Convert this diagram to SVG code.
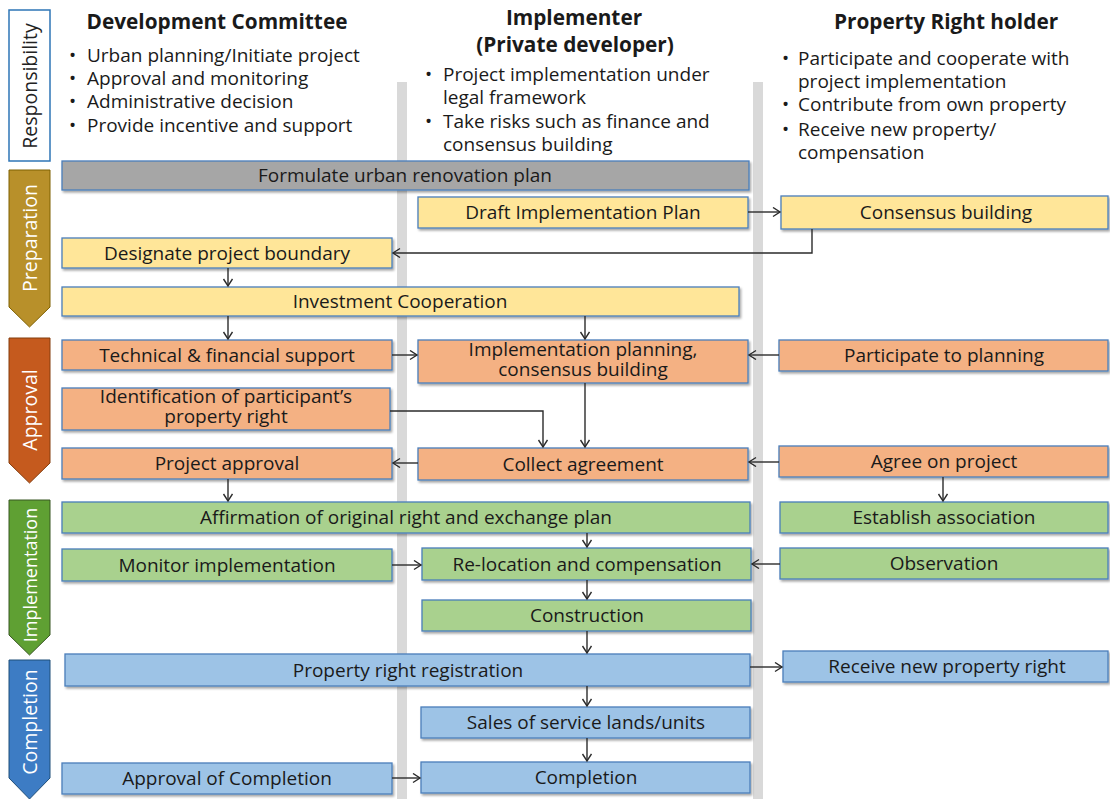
<svg xmlns="http://www.w3.org/2000/svg" width="1110" height="799" viewBox="0 0 1110 799">
<defs>
<style>
text{font-family:"Open Sans","Liberation Sans",sans-serif;fill:#1a1a1a}
.h{font-size:20.8px;font-weight:bold;text-anchor:middle}
.b{font-size:19px}
.t{font-size:19px;text-anchor:middle}
.ph{font-size:19.5px;fill:#fff;text-anchor:middle}
.box{stroke:#4a7ebb;stroke-width:1.3;filter:url(#sh)}
.gray{fill:#a6a6a6}.yel{fill:#ffe699}.org{fill:#f4b183}.grn{fill:#a9d18e}.blu{fill:#9dc3e6}
.lane{fill:#d9d9d9}
.c{fill:none;stroke:#2b2b2b;stroke-width:1.4;marker-end:url(#ah)}
</style>
<filter id="sh" x="-5%" y="-20%" width="110%" height="150%">
<feDropShadow dx="1.5" dy="2" stdDeviation="1" flood-color="#000" flood-opacity="0.35"/>
</filter>
<marker id="ah" markerUnits="userSpaceOnUse" markerWidth="12" markerHeight="12" refX="8" refY="5" orient="auto">
<path d="M1,0.5 L8,5 L1,9.5" fill="none" stroke="#2b2b2b" stroke-width="1.4"/>
</marker>
</defs>
<rect width="1110" height="799" fill="#fff"/>

<g id="lanes">
<rect class="lane" x="397" y="82" width="10" height="717"/>
<rect class="lane" x="753" y="82" width="10" height="717"/>
</g>

<g id="phase-responsibility">
<rect x="9" y="10" width="41" height="151" fill="#fff" stroke="#2e75b6" stroke-width="1.5"/>
<text class="ph" style="fill:#222" transform="translate(37,86) rotate(-90)">Responsibility</text>
</g>
<g id="phase-preparation">
<polygon points="9,170 50,170 50,307 29.5,327 9,307" fill="#b8902a" stroke="#7f6000" stroke-width="1"/>
<text class="ph" transform="translate(37,238) rotate(-90)">Preparation</text>
</g>
<g id="phase-approval">
<polygon points="9,338 50,338 50,463 29.5,483 9,463" fill="#c55a1e" stroke="#843c0c" stroke-width="1"/>
<text class="ph" transform="translate(37,410) rotate(-90)">Approval</text>
</g>
<g id="phase-implementation">
<polygon points="9,500 50,500 50,635 29.5,655 9,635" fill="#5fa033" stroke="#385723" stroke-width="1"/>
<text class="ph" style="font-size:18px" transform="translate(36.5,575) rotate(-90)">Implementation</text>
</g>
<g id="phase-completion">
<polygon points="9,660 50,660 50,778 29.5,799 9,778" fill="#3d7cc4" stroke="#1f4e79" stroke-width="1"/>
<text class="ph" transform="translate(37,722) rotate(-90)">Completion</text>
</g>

<g id="header-dev">
<text class="h" x="217" y="29">Development Committee</text>
<text class="b"><tspan x="69" y="62">•</tspan><tspan x="87" y="62">Urban planning/Initiate project</tspan><tspan x="69" y="85">•</tspan><tspan x="87" y="85">Approval and monitoring</tspan><tspan x="69" y="108">•</tspan><tspan x="87" y="108">Administrative decision</tspan><tspan x="69" y="132">•</tspan><tspan x="87" y="132">Provide incentive and support</tspan></text>
</g>
<g id="header-impl">
<text class="h"><tspan x="574" y="25">Implementer</tspan><tspan x="575" y="52">(Private developer)</tspan></text>
<text class="b"><tspan x="425" y="81">•</tspan><tspan x="443" y="81">Project implementation under</tspan><tspan x="443" y="104">legal framework</tspan><tspan x="425" y="128">•</tspan><tspan x="443" y="128">Take risks such as finance and</tspan><tspan x="443" y="151">consensus building</tspan></text>
</g>
<g id="header-prop">
<text class="h" x="946" y="29">Property Right holder</text>
<text class="b"><tspan x="782" y="65">•</tspan><tspan x="798" y="65">Participate and cooperate with</tspan><tspan x="798" y="88">project implementation</tspan><tspan x="782" y="111">•</tspan><tspan x="798" y="111">Contribute from own property</tspan><tspan x="782" y="136">•</tspan><tspan x="798" y="136">Receive new property/</tspan><tspan x="798" y="159">compensation</tspan></text>
</g>

<g id="n-formulate"><rect class="box gray" x="62" y="161" width="687" height="29"/><text class="t" x="405" y="182">Formulate urban renovation plan</text></g>
<g id="n-draft"><rect class="box yel" x="418" y="197" width="330" height="31"/><text class="t" x="583" y="219">Draft Implementation Plan</text></g>
<g id="n-consensus"><rect class="box yel" x="781" y="196" width="327" height="33"/><text class="t" x="946" y="219">Consensus building</text></g>
<g id="n-designate"><rect class="box yel" x="62" y="238" width="330" height="30"/><text class="t" x="227" y="260">Designate project boundary</text></g>
<g id="n-investment"><rect class="box yel" x="62" y="287" width="677" height="29"/><text class="t" x="400" y="308">Investment Cooperation</text></g>

<g id="n-technical"><rect class="box org" x="62" y="340" width="330" height="30"/><text class="t" x="227" y="362">Technical &amp; financial support</text></g>
<g id="n-implplan"><rect class="box org" x="418" y="340" width="330" height="43"/><text class="t"><tspan x="583" y="356">Implementation planning,</tspan><tspan x="583" y="376">consensus building</tspan></text></g>
<g id="n-participate"><rect class="box org" x="779" y="340" width="329" height="31"/><text class="t" x="944" y="362">Participate to planning</text></g>
<g id="n-identification"><rect class="box org" x="62" y="388" width="328" height="42"/><text class="t"><tspan x="226" y="403">Identification of participant’s</tspan><tspan x="226" y="423">property right</tspan></text></g>
<g id="n-projapproval"><rect class="box org" x="62" y="448" width="330" height="31"/><text class="t" x="227" y="470">Project approval</text></g>
<g id="n-collect"><rect class="box org" x="418" y="448" width="330" height="32"/><text class="t" x="583" y="471">Collect agreement</text></g>
<g id="n-agree"><rect class="box org" x="779" y="446" width="329" height="31"/><text class="t" x="944" y="468">Agree on project</text></g>

<g id="n-affirmation"><rect class="box grn" x="62" y="502" width="688" height="31"/><text class="t" x="406" y="524">Affirmation of original right and exchange plan</text></g>
<g id="n-establish"><rect class="box grn" x="780" y="502" width="328" height="31"/><text class="t" x="944" y="524">Establish association</text></g>
<g id="n-monitor"><rect class="box grn" x="62" y="549" width="330" height="32"/><text class="t" x="227" y="572">Monitor implementation</text></g>
<g id="n-relocation"><rect class="box grn" x="422" y="548" width="329" height="32"/><text class="t" x="587" y="571">Re-location and compensation</text></g>
<g id="n-observation"><rect class="box grn" x="780" y="548" width="328" height="31"/><text class="t" x="944" y="570">Observation</text></g>
<g id="n-construction"><rect class="box grn" x="422" y="600" width="329" height="31"/><text class="t" x="587" y="622">Construction</text></g>

<g id="n-registration"><rect class="box blu" x="65" y="654" width="685" height="32"/><text class="t" x="408" y="677">Property right registration</text></g>
<g id="n-receive"><rect class="box blu" x="783" y="651" width="325" height="31"/><text class="t" x="947" y="673">Receive new property right</text></g>
<g id="n-sales"><rect class="box blu" x="421" y="707" width="329" height="31"/><text class="t" x="586" y="729">Sales of service lands/units</text></g>
<g id="n-approvalcompletion"><rect class="box blu" x="62" y="763" width="330" height="31"/><text class="t" x="227" y="785">Approval of Completion</text></g>
<g id="n-completion"><rect class="box blu" x="421" y="762" width="329" height="31"/><text class="t" x="586" y="784">Completion</text></g>

<g id="connectors">
<path class="c" d="M748,212 H780"/>
<path class="c" d="M812,229 V253 H393"/>
<path class="c" d="M228,268 V286"/>
<path class="c" d="M228,316 V339"/>
<path class="c" d="M585,316 V339"/>
<path class="c" d="M392,355 H417"/>
<path class="c" d="M779,355 H749"/>
<path class="c" d="M390,411 H543 V447"/>
<path class="c" d="M585,383 V447"/>
<path class="c" d="M418,463 H393"/>
<path class="c" d="M779,462 H749"/>
<path class="c" d="M943,477 V501"/>
<path class="c" d="M228,479 V501"/>
<path class="c" d="M587,533 V547"/>
<path class="c" d="M392,565 H421"/>
<path class="c" d="M780,564 H752"/>
<path class="c" d="M587,580 V599"/>
<path class="c" d="M587,631 V653"/>
<path class="c" d="M750,667 H782"/>
<path class="c" d="M587,686 V706"/>
<path class="c" d="M587,738 V761"/>
<path class="c" d="M392,778 H420"/>
</g>
</svg>
